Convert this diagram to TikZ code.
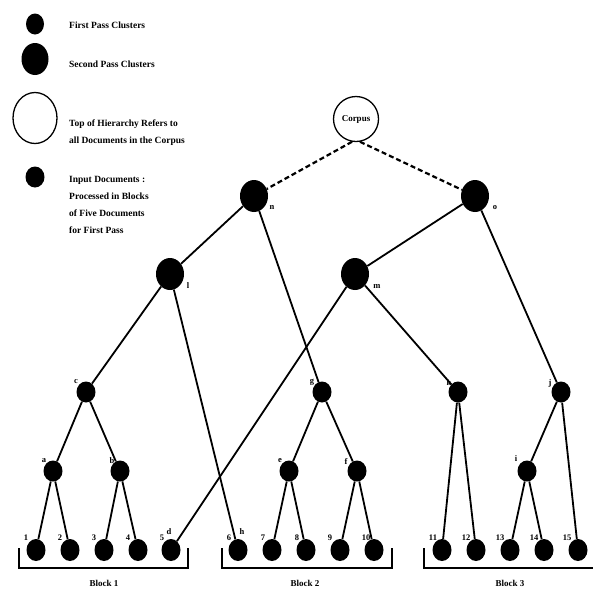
\documentclass[tikz,border=0pt]{standalone}
\usepackage{fontspec}
\setmainfont{Liberation Serif}
\usetikzlibrary{shapes.geometric}
\begin{document}
\begin{tikzpicture}[x=1pt,y=-1pt,
  leaf/.style={ellipse,fill=black,inner sep=0pt,minimum width=19pt,minimum height=22pt},
  fp/.style={ellipse,fill=black,inner sep=0pt,minimum width=19pt,minimum height=21pt},
  sp/.style={ellipse,fill=black,inner sep=0pt,minimum width=28pt,minimum height=32pt},
  top/.style={ellipse,draw=black,line width=1.3pt,inner sep=0pt,minimum width=45pt,minimum height=45pt,font=\fontsize{9}{10}\selectfont\bfseries},
  lbl/.style={inner sep=0pt,font=\fontsize{8.5}{10}\selectfont\bfseries},
  blk/.style={inner sep=0pt,font=\fontsize{9}{10}\selectfont\bfseries},
  legtxt/.style={inner sep=0pt,anchor=west,font=\fontsize{9.5}{17}\selectfont\bfseries,align=left},
  edge/.style={line width=1.8pt},
  dedge/.style={line width=2.2pt,dash pattern=on 5pt off 3pt},
  bracket/.style={line width=1.2pt},
]
\useasboundingbox (0,0) rectangle (593,590);
% legend
\node[fp,minimum width=18pt] (L1) at (35,24) {};
\node[legtxt] (L1t) at (69,25) {First Pass Clusters};
\node[sp,minimum width=27pt] (L2) at (35,59) {};
\node[legtxt] (L2t) at (69,64) {Second Pass Clusters};
\node[ellipse,draw=black,line width=1.3pt,minimum width=44pt,minimum height=51pt] (L3) at (35,118) {};
\node[legtxt] (L3t) at (69,133) {Top of Hierarchy Refers to\\all Documents in the Corpus};
\node[fp,minimum width=19pt] (L4) at (35,177) {};
\node[legtxt,anchor=north west] (L4t) at (69,176) {Input Documents :\\Processed in Blocks\\of Five Documents\\for First Pass};
% tree nodes
\node[top] (corpus) at (356,119) {Corpus};
\node[sp] (n) at (254,196) {};
\node[sp] (o) at (475,196) {};
\node[sp] (l) at (170,274) {};
\node[sp] (m) at (355,274) {};
\node[fp] (c) at (86,392) {};
\node[fp] (g) at (322,392) {};
\node[fp] (k) at (458,392) {};
\node[fp] (j) at (561,392) {};
\node[fp] (a) at (53,471) {};
\node[fp] (b) at (120,471) {};
\node[fp] (e) at (289,471) {};
\node[fp] (f) at (357,471) {};
\node[fp] (i) at (527,471) {};
\foreach \k/\x in {1/36,2/70,3/104,4/138,5/171,6/238,7/272,8/306,9/340,10/374,11/442,12/476,13/510,14/544,15/578}{
  \node[leaf] (d\k) at (\x,550) {};
}
% labels
\node[lbl] (tn) at (272,207) {n};
\node[lbl] (to) at (495,208) {o};
\node[lbl] (tl) at (188,286) {l};
\node[lbl] (tm) at (377,286) {m};
\node[lbl] (tc) at (76,382) {c};
\node[lbl] (tg) at (312,382) {g};
\node[lbl] (tk) at (449,383) {k};
\node[lbl] (tj) at (550,383) {j};
\node[lbl] (ta) at (44,461) {a};
\node[lbl] (tb) at (112,461) {b};
\node[lbl] (te) at (280,461) {e};
\node[lbl] (tf) at (346,461) {f};
\node[lbl] (ti) at (516,459) {i};
\node[lbl] (td) at (169,532) {d};
\node[lbl] (th) at (242,532) {h};
\foreach \k/\x in {1/26,2/60,3/94,4/128,5/162,6/229,7/263,8/297,9/330,10/366,11/433,12/466,13/500,14/534,15/567}{
  \node[lbl] (t\k) at (\x,538) {\k};
}
% edges
\draw[dedge] (corpus.-100) -- (n);
\draw[dedge] (corpus.-80) -- (o);
\draw[edge] (n) -- (l);
\draw[edge] (n) -- (g);
\draw[edge] (o) -- (m);
\draw[edge] (o) -- (j);
\draw[edge] (l) -- (c);
\draw[edge] (l) -- (d6);
\draw[edge] (m) -- (d5);
\draw[edge] (m) -- (k);
\draw[edge] (c) -- (a);
\draw[edge] (c) -- (b);
\draw[edge] (a) -- (d1);
\draw[edge] (a) -- (d2);
\draw[edge] (b) -- (d3);
\draw[edge] (b) -- (d4);
\draw[edge] (g) -- (e);
\draw[edge] (g) -- (f);
\draw[edge] (e) -- (d7);
\draw[edge] (e) -- (d8);
\draw[edge] (f) -- (d9);
\draw[edge] (f) -- (d10);
\draw[edge] (k) -- (d11);
\draw[edge] (k) -- (d12);
\draw[edge] (j) -- (i);
\draw[edge] (j) -- (d15);
\draw[edge] (i) -- (d13);
\draw[edge] (i) -- (d14);
% blocks
\coordinate (b1a) at (19,548); \coordinate (b1b) at (188,548);
\coordinate (b2a) at (222,548); \coordinate (b2b) at (392,548);
\coordinate (b3a) at (424,548); \coordinate (b3b) at (593,568);
\draw[bracket] (b1a) -- (19,568) -- (188,568) -- (b1b);
\draw[bracket] (b2a) -- (222,568) -- (392,568) -- (b2b);
\draw[bracket] (b3a) -- (424,568) -- (b3b);
\node[blk] (B1) at (104,583) {Block 1};
\node[blk] (B2) at (305,583) {Block 2};
\node[blk] (B3) at (510,583) {Block 3};
\end{tikzpicture}
\end{document}
